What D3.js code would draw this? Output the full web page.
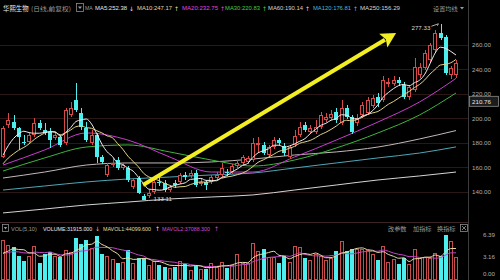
<!DOCTYPE html>
<html><head><meta charset="utf-8">
<script src="https://cdn.jsdelivr.net/npm/d3@7"></script>
<style>
html,body{margin:0;padding:0;background:#000;}
svg{display:block;}
</style></head><body>
<svg id="c" width="500" height="280"></svg>
<script>
// ---------------- data ----------------
const stockName = "华熙生物";
const stockMode = "(日线,前复权)";
const priceTicks = [140, 160, 180, 200, 220, 240, 260];
const volTicks = [0, 3.16, 6.39];          // 万手
const markPrice = 210.76;

const open = [168.6,194.7,197.1,192.2,180.8,180.8,186.5,196.3,190.6,189.0,
  184.1,184.9,180.0,202.9,215.1,204.5,192.2,180.0,186.5,168.6,
  153.9,162.0,166.1,159.6,159.6,144.1,151.4,136.7,136.7,140.0,
  148.2,147.3,141.6,147.3,148.2,153.9,153.1,155.5,147.3,148.2,
  148.2,151.4,153.9,156.3,156.3,161.2,163.7,164.5,166.1,178.4,
  178.4,170.2,176.7,182.4,177.6,168.6,178.4,186.5,194.7,189.0,
  189.0,193.1,198.8,200.4,205.3,196.3,208.6,201.2,196.3,202.9,
  204.5,210.2,217.6,215.1,228.2,228.2,231.4,227.3,217.6,223.3,
  235.5,241.2,247.8,255.9,269.8,266.5,235.5,235.5];
const high = [193.9,204.5,202.9,193.1,186.5,188.2,200.4,198.8,196.3,192.2,
  189.0,186.5,208.6,213.5,229.0,208.6,197.1,190.6,188.2,170.2,
  163.7,167.8,168.6,163.7,161.2,151.4,153.1,138.4,141.6,149.8,
  153.1,149.8,145.7,149.8,155.5,156.3,158.0,158.0,150.6,149.8,
  153.9,156.3,163.7,158.8,162.9,166.1,170.2,169.4,184.1,184.9,
  180.8,178.4,184.9,184.1,180.0,178.4,190.6,197.1,197.1,194.7,
  198.8,205.3,204.5,206.9,208.6,215.1,211.0,202.9,203.7,213.5,
  217.6,219.2,220.8,234.7,233.1,234.7,233.9,229.8,227.3,249.4,
  245.3,255.9,261.6,272.2,277.33,268.2,242.9,247.8];
const low = [167.8,192.2,190.6,174.3,178.4,180.0,184.9,190.6,186.5,175.9,
  182.4,176.7,178.4,201.2,205.3,190.6,180.8,178.4,163.7,162.9,
  152.2,160.4,158.0,158.0,148.2,142.5,138.4,133.11,135.1,138.4,
  144.9,140.0,140.0,143.3,146.5,149.8,151.4,144.1,145.0,141.6,
  146.5,149.8,152.2,153.1,154.7,159.6,162.0,162.9,164.5,171.8,
  170.2,168.6,175.1,178.4,169.4,167.0,176.7,184.9,189.0,187.3,
  187.3,191.4,197.1,198.8,196.3,194.7,199.6,187.3,193.9,200.4,
  202.9,208.6,209.4,213.5,225.7,226.5,226.5,215.9,215.1,221.6,
  233.1,239.6,246.1,254.3,264.1,235.5,232.2,233.1];
const close = [192.2,198.8,192.2,184.9,180.0,186.5,196.3,192.2,188.2,182.4,
  186.5,178.4,206.9,208.6,206.9,193.1,182.4,186.5,168.6,164.5,
  162.0,163.7,159.6,162.0,149.8,149.8,139.2,133.5,139.2,148.2,
  147.3,141.6,144.1,145.7,153.9,152.2,155.5,145.7,148.2,145.7,
  152.2,153.9,159.6,155.5,161.2,163.7,168.6,167.8,180.0,180.0,
  171.8,176.7,182.4,180.0,171.8,176.7,185.7,193.1,190.6,192.2,
  193.1,202.9,201.2,203.7,198.8,208.6,201.2,189.0,200.4,211.0,
  215.1,216.7,212.7,231.4,229.8,231.4,229.0,217.6,225.7,242.0,
  242.0,253.5,260.0,269.8,265.7,237.1,241.2,245.3];
const volume = [5.66,4.94,4.69,3.34,2.61,3.34,4.84,2.37,3.58,3.87,
  3.34,3.24,4.21,3.97,6.00,5.04,5.66,4.55,6.24,3.58,
  3.34,2.86,2.37,2.52,4.21,2.27,3.00,3.00,2.03,2.61,
  2.03,1.79,1.55,1.79,2.61,2.18,1.31,1.89,1.45,1.40,
  2.27,1.79,2.52,1.65,2.03,3.58,2.27,2.30,5.20,4.06,
  4.40,3.24,3.24,2.27,3.40,2.52,4.84,4.69,3.00,2.76,
  3.58,3.34,2.76,3.10,4.06,5.52,4.06,4.30,4.30,4.40,
  4.21,3.60,2.76,4.84,2.42,2.86,2.18,3.10,2.13,4.40,
  3.00,3.24,3.10,3.72,3.34,6.39,5.52,3.19];
// closes / volumes just before the first visible day (read from MA start levels)
const priorCloses = [152, 158, 155, 157, 158, 160, 163, 166, 168.8];
const priorVolumes = [3.5, 3.2, 3.8, 4.0, 3.6, 3.4, 3.0, 3.9, 2.8];

// long moving averages at sample days
const maDays = [0, 8, 16, 24, 32, 40, 48, 56, 64, 72, 80, 87];
const ma20 = [162.0, 174.3, 188.2, 182.4, 168.6, 156.3, 156.3, 168.6, 182.4, 197.1, 213.5, 232.75];
const ma30 = [157.1, 167.8, 176.7, 178.4, 172.7, 166.1, 161.2, 166.1, 175.9, 188.2, 202.9, 220.83];
const ma60 = [151.4, 156.3, 162.0, 163.7, 163.7, 164.5, 166.9, 170.2, 172.7, 176.7, 183.3, 190.14];
const ma120 = [141.6, 144.9, 148.2, 150.6, 152.2, 153.9, 155.5, 159.6, 163.7, 167.8, 171.8, 176.81];
const ma250 = [122.9, 126.1, 129.4, 131.8, 134.3, 135.9, 137.6, 141.6, 145.7, 149.8, 153.1, 156.29];

const maNames = ["MA5", "MA10", "MA20", "MA30", "MA60", "MA120", "MA250"];
const maValues = ["252.38", "247.17", "232.75", "220.83", "190.14", "176.81", "156.29"];
const maTrend = ["↓", "↑", "↑", "↑", "↑", "↑", ""];
const volNames = ["VOLUME", "MAVOL1", "MAVOL2"];
const volValues = ["31915.000", "44099.600", "37088.300"];
const volTrend = ["↓", "↑", "↑"];
const toolLabels = ["改参数", "加指标", "换指标"];

// trend arrow annotation (day index, price)
const arrowFrom = [26.9, 145.7];
const arrowTo = [75.5, 269.8];

// ---------------- drawing ----------------
const W = 500, H = 280;
const svg = d3.select("#c");
svg.append("rect").attr("width", W).attr("height", H).attr("fill", "#000");

const n = close.length;
const x = d3.scaleBand().domain(d3.range(n)).range([0.4, 458.6]).paddingInner(0.3).paddingOuter(0.15);
const cx = i => x(i) + x.bandwidth() / 2;
const xl = d3.scaleLinear().domain([0, n - 1]).range([cx(0), cx(n - 1)]);
const y = d3.scaleLinear().domain([115.5, 282.04]).range([222, 18]);
const vy = d3.scaleLinear().domain([0, 6.39]).range([279, 235]);

const RED = "#d84a4a", CYAN = "#4ceeee";
const LATIN = "'Liberation Sans', Arial, sans-serif";
const CJK = "'Noto Sans CJK SC', sans-serif";
const ARW = "'DejaVu Sans', sans-serif";

function label(g, xp, yp, s, color, size, w, fam, anchor) {
  const t = g.append("text").attr("x", xp).attr("y", yp).text(s)
    .attr("fill", color).attr("font-size", size).attr("font-family", fam || LATIN);
  if (w) t.attr("textLength", w).attr("lengthAdjust", "spacingAndGlyphs");
  if (anchor) t.attr("text-anchor", anchor);
  return t;
}

// frame lines
svg.append("line").attr("x1", 468.5).attr("x2", 468.5).attr("y1", 0).attr("y2", H).attr("stroke", "#3c3c3c");
svg.append("line").attr("x1", 0).attr("x2", 468).attr("y1", 222.5).attr("y2", 222.5).attr("stroke", "#3a2424");

// grid + price axis
const grid = svg.append("g").attr("shape-rendering", "crispEdges");
priceTicks.forEach(p => {
  grid.append("line").attr("x1", 0).attr("x2", 468).attr("y1", Math.round(y(p)) + 0.5).attr("y2", Math.round(y(p)) + 0.5)
    .attr("stroke", "#2c1717");
  label(svg, 472, y(p) + 2.2, d3.format(".2f")(p), "#aeaeae", 6.2);
});
// marked price box
const my = y(markPrice) - 4;
svg.append("rect").attr("x", 469.5).attr("y", my - 5).attr("width", 29).attr("height", 10)
  .attr("fill", "#1c1c1c").attr("stroke", "#8a8a8a").attr("stroke-width", 0.8);
label(svg, 472, my + 2.2, d3.format(".2f")(markPrice), "#e6e6e6", 6.2);

// long MAs
const lineMA = d3.line().x(d => xl(d[0])).y(d => y(d[1])).curve(d3.curveMonotoneX);
const longMA = [[ma250, "#d4d4d4"], [ma120, "#4fa6b6"], [ma60, "#c4b8b8"], [ma30, "#3db53d"], [ma20, "#c93ccf"]];
longMA.forEach(([arr, col]) => {
  svg.append("path").attr("d", lineMA(maDays.map((d, k) => [d, arr[k]])))
    .attr("fill", "none").attr("stroke", col).attr("stroke-width", 1);
});

// candles
const cg = svg.append("g").attr("shape-rendering", "crispEdges");
d3.range(n).forEach(i => {
  const up = close[i] >= open[i];
  const col = up ? RED : CYAN;
  const xi = Math.round(x(i));
  const wx = xi + 2;
  const top = Math.round(y(Math.max(open[i], close[i])));
  const bot = Math.round(y(Math.min(open[i], close[i])));
  const h = Math.max(1, bot - top);
  if (up) {
    cg.append("line").attr("x1", wx).attr("x2", wx).attr("y1", y(high[i])).attr("y2", top).attr("stroke", col);
    cg.append("line").attr("x1", wx).attr("x2", wx).attr("y1", top + h).attr("y2", y(low[i])).attr("stroke", col);
    cg.append("rect").attr("x", xi + 0.5).attr("y", top + 0.5).attr("width", 3).attr("height", Math.max(1, h - 1))
      .attr("fill", "#000").attr("stroke", col);
  } else {
    cg.append("line").attr("x1", wx).attr("x2", wx).attr("y1", y(high[i])).attr("y2", y(low[i])).attr("stroke", col);
    cg.append("rect").attr("x", xi).attr("y", top).attr("width", 4).attr("height", h).attr("fill", col);
  }
});

// short MAs computed from closes
const allC = priorCloses.concat(close);
const off = priorCloses.length;
const maOf = (arr, k) => d3.range(n).map(i => d3.mean(arr.slice(i + off - k + 1, i + off + 1)));
const ma10 = maOf(allC, 10), ma5 = maOf(allC, 5);
const lineS = d3.line().x((d, i) => cx(i)).y(d => y(d)).curve(d3.curveMonotoneX);
svg.append("path").attr("d", lineS(ma10)).attr("fill", "none").attr("stroke", "#e2d48c").attr("stroke-width", 1);
svg.append("path").attr("d", lineS(ma5)).attr("fill", "none").attr("stroke", "#efefef").attr("stroke-width", 1);

// high / low marks
const iMax = d3.maxIndex(high), iMin = d3.minIndex(low);
label(svg, cx(iMax) - 10, y(high[iMax]) + 6, d3.format(".2f")(high[iMax]), "#d8d8d8", 6.2, null, LATIN, "end");
svg.append("polyline").attr("points", `${cx(iMax) - 9},${y(high[iMax]) + 2.5} ${cx(iMax) - 2},${y(high[iMax])} ${cx(iMax) - 3},${y(high[iMax]) + 2}`)
  .attr("fill", "none").attr("stroke", "#d8d8d8").attr("stroke-width", 0.8);
label(svg, cx(iMin) + 10, y(low[iMin]) + 1, d3.format(".2f")(low[iMin]), "#d8d8d8", 6.2);

// yellow trend arrow
(function () {
  const x0 = xl(arrowFrom[0]), y0 = y(arrowFrom[1]);
  const x1 = xl(arrowTo[0]), y1 = y(arrowTo[1]);
  const L = Math.hypot(x1 - x0, y1 - y0);
  const ux = (x1 - x0) / L, uy = (y1 - y0) / L;
  const nx = -uy, ny = ux;
  const hl = 15, hw = 8;
  const bx = x1 - ux * hl, by = y1 - uy * hl;
  svg.append("line").attr("x1", x0).attr("y1", y0).attr("x2", bx + ux * 2).attr("y2", by + uy * 2)
    .attr("stroke", "#f2ee22").attr("stroke-width", 4);
  svg.append("path").attr("d", `M${x1},${y1}L${bx + nx * hw},${by + ny * hw}L${bx + ux * 3},${by + uy * 3}L${bx - nx * hw},${by - ny * hw}Z`)
    .attr("fill", "#f2ee22");
})();

// title bar
label(svg, 3, 10.5, stockName, "#e8e8e8", 6.4, null, CJK);
label(svg, 31, 10.5, stockMode, "#9c9c9c", 6.2, 40, CJK);
svg.append("rect").attr("x", 76.5).attr("y", 3.5).attr("width", 7).attr("height", 8).attr("fill", "none").attr("stroke", "#8c8c8c").attr("stroke-width", 0.8);
svg.append("path").attr("d", "M78,6.5L82,6.5L80,9Z").attr("fill", "#9c9c9c");
label(svg, 85, 10.2, "MA", "#9c9c9c", 5.2);
const maColors = ["#e8e8e8", "#e4dc9a", "#e046e0", "#44cc44", "#d4d4d4", "#4cbccc", "#d4d4d4"];
const maX = [95, 137, 182, 225, 268, 313, 360];
const maW = [32, 35, 36, 35, 35, 38, 40];
maNames.forEach((nm, k) => {
  label(svg, maX[k], 10.2, nm + ":" + maValues[k], maColors[k], 5.9, maW[k]);
  if (maTrend[k]) label(svg, maX[k] + maW[k] + 2, 10.5, maTrend[k], maColors[k], 6, null, ARW);
});
label(svg, 433, 10.5, "设置均线", "#9c9c9c", 6.2, null, CJK);
svg.append("path").attr("d", "M460,7L464,7L462,9.5Z").attr("fill", "#9c9c9c");

// volume header
svg.append("rect").attr("x", 2.5).attr("y", 224.5).attr("width", 6).attr("height", 7).attr("fill", "none").attr("stroke", "#8c8c8c").attr("stroke-width", 0.8);
svg.append("path").attr("d", "M3.8,227L7.2,227L5.5,229.5Z").attr("fill", "#9c9c9c");
label(svg, 11, 230.6, "VOL(5,10)", "#9c9c9c", 5.6);
const volColors = ["#e8e8e8", "#e4dc9a", "#d04ad0"];
const volX = [43, 103, 162];
volNames.forEach((nm, k) => {
  label(svg, volX[k], 230.6, nm + ":" + volValues[k], volColors[k], 5.35);
  label(svg, volX[k] + 52, 231, volTrend[k], k === 0 ? "#e6c060" : volColors[k], 6, null, ARW);
});
const toolX = [388, 413, 437];
toolLabels.forEach((s, k) => label(svg, toolX[k], 231, s, "#9a9a9a", 6.2, null, CJK));
svg.append("rect").attr("x", 460.5).attr("y", 224.5).attr("width", 7).attr("height", 7).attr("fill", "none").attr("stroke", "#8c8c8c").attr("stroke-width", 0.8);
svg.append("path").attr("d", "M462,226L466,230M466,226L462,230").attr("stroke", "#9c9c9c").attr("stroke-width", 0.8);

// volume axis labels
volTicks.forEach(v => {
  label(svg, 495, Math.min(vy(v), 274) + 2.2, d3.format(".2f")(v), "#aeaeae", 6.2, null, LATIN, "end");
});

// volume bars
const vg = svg.append("g").attr("shape-rendering", "crispEdges");
d3.range(n).forEach(i => {
  const up = close[i] >= open[i];
  const xi = Math.round(x(i));
  const top = Math.round(vy(volume[i]));
  const bot = Math.round(vy(0));
  if (up) {
    vg.append("rect").attr("x", xi + 0.5).attr("y", top + 0.5).attr("width", 3).attr("height", bot - top)
      .attr("fill", "#000").attr("stroke", "#c84c4c");
  } else {
    vg.append("rect").attr("x", xi).attr("y", top).attr("width", 4).attr("height", bot - top + 1).attr("fill", CYAN);
  }
});
// volume MAs
const allV = priorVolumes.concat(volume);
const vOff = priorVolumes.length;
const vmaOf = k => d3.range(n).map(i => d3.mean(allV.slice(i + vOff - k + 1, i + vOff + 1)));
const vLine = d3.line().x((d, i) => cx(i)).y(d => vy(d)).curve(d3.curveMonotoneX);
svg.append("path").attr("d", vLine(vmaOf(10))).attr("fill", "none").attr("stroke", "#c446c4").attr("stroke-width", 1);
svg.append("path").attr("d", vLine(vmaOf(5))).attr("fill", "none").attr("stroke", "#e8dca8").attr("stroke-width", 1);
</script>
</body></html>
